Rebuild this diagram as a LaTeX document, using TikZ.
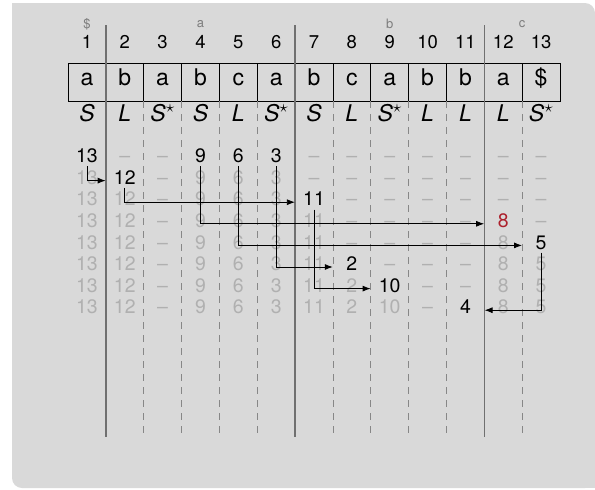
\documentclass[tikz,border=0pt]{standalone}
\usepackage{fontspec}
\setmainfont{TeX Gyre Heros}
\usetikzlibrary{arrows.meta}
\definecolor{bgc}{RGB}{217,217,217}
\definecolor{sepc}{RGB}{112,112,112}
\definecolor{dashc}{RGB}{135,135,135}
\definecolor{fadec}{RGB}{176,176,176}
\definecolor{lblc}{RGB}{125,125,125}
\definecolor{redc}{RGB}{172,32,44}
\newcommand\SAent[4]{\node[rowent,#3] (r#1c#2) at ({68+(#2-0.5)*37.85},{159+(#1-1)*21.6}) {#4};}
\begin{document}
\begin{tikzpicture}[x=1pt,y=-1pt,
  idxlbl/.style={font=\fontsize{18.5}{18.5}\selectfont, text height=0.72em, text depth=0pt, inner sep=0pt},
  bktlbl/.style={font=\fontsize{13}{13}\selectfont, text=lblc, inner sep=0pt},
  cellbox/.style={draw=black, line width=0.8pt, minimum width=37.85pt, minimum height=38pt, inner sep=0pt,
     font=\fontsize{23}{23}\selectfont, text height=0.72em, text depth=0pt},
  typelbl/.style={font=\fontsize{23}{23}\selectfont\itshape, text height=0.72em, text depth=0pt, inner sep=0pt},
  rowent/.style={font=\fontsize{19.5}{19.5}\selectfont, minimum width=37.85pt, inner xsep=0pt, inner ysep=3.5pt,
     text height=0.72em, text depth=0pt},
  fadedent/.style={text=fadec},
  newent/.style={text=black},
  redent/.style={text=redc},
  bucketsep/.style={draw=sepc, line width=1.5pt},
  cellsep/.style={draw=dashc, line width=0.7pt, dash pattern=on 7pt off 6pt},
  arr/.style={draw=black, line width=0.8pt, -{Latex[length=8pt,width=6pt]}}]
\useasboundingbox (0,0) rectangle (595,490);
\fill[bgc, rounded corners=10pt] (12,3) rectangle (595,488);
\fill[bgc] (12,3) rectangle (40,30);
\fill[bgc] (560,460) rectangle (595,488);

% index numbers, string cells and types
\foreach \i/\ch/\ty in {1/a/S, 2/b/L, 3/a/{S$^\star$}, 4/b/S, 5/c/L, 6/a/{S$^\star$}, 7/b/S, 8/c/L, 9/a/{S$^\star$}, 10/b/L, 11/b/L, 12/a/L, 13/\$/{S$^\star$}} {
  \node[idxlbl] (idx\i) at ({68+(\i-0.5)*37.85},45) {\i};
  \node[cellbox] (cell\i) at ({68+(\i-0.5)*37.85},82) {\ch};
  \node[typelbl] (t\i) at ({68+(\i-0.5)*37.85},118) {\ty};
}

% bucket labels
\node[bktlbl] (bkd) at ({68+0.5*37.85},24) {\$};
\node[bktlbl] (bka) at ({68+3.5*37.85},24) {a};
\node[bktlbl] (bkb) at ({68+8.5*37.85},24) {b};
\node[bktlbl] (bkc) at ({68+12*37.85},24) {c};

% separators
\foreach \k in {2,3,4,5,7,8,9,10,12}
  \draw[cellsep] ({68+\k*37.85},101) -- ({68+\k*37.85},437);
\foreach \k in {1,6,11}
  \draw[bucketsep] ({68+\k*37.85},25) -- ({68+\k*37.85},437);

% rows
\foreach \c/\s/\v in {1/newent/13,2/fadedent/–,3/fadedent/–,4/newent/9,5/newent/6,6/newent/3,7/fadedent/–,8/fadedent/–,9/fadedent/–,10/fadedent/–,11/fadedent/–,12/fadedent/–,13/fadedent/–}
  {\SAent{1}{\c}{\s}{\v}}
\foreach \c/\s/\v in {1/fadedent/13,2/newent/12,3/fadedent/–,4/fadedent/9,5/fadedent/6,6/fadedent/3,7/fadedent/–,8/fadedent/–,9/fadedent/–,10/fadedent/–,11/fadedent/–,12/fadedent/–,13/fadedent/–}
  {\SAent{2}{\c}{\s}{\v}}
\foreach \c/\s/\v in {1/fadedent/13,2/fadedent/12,3/fadedent/–,4/fadedent/9,5/fadedent/6,6/fadedent/3,7/newent/11,8/fadedent/–,9/fadedent/–,10/fadedent/–,11/fadedent/–,12/fadedent/–,13/fadedent/–}
  {\SAent{3}{\c}{\s}{\v}}
\foreach \c/\s/\v in {1/fadedent/13,2/fadedent/12,3/fadedent/–,4/fadedent/9,5/fadedent/6,6/fadedent/3,7/fadedent/11,8/fadedent/–,9/fadedent/–,10/fadedent/–,11/fadedent/–,12/redent/8,13/fadedent/–}
  {\SAent{4}{\c}{\s}{\v}}
\foreach \c/\s/\v in {1/fadedent/13,2/fadedent/12,3/fadedent/–,4/fadedent/9,5/fadedent/6,6/fadedent/3,7/fadedent/11,8/fadedent/–,9/fadedent/–,10/fadedent/–,11/fadedent/–,12/fadedent/8,13/newent/5}
  {\SAent{5}{\c}{\s}{\v}}
\foreach \c/\s/\v in {1/fadedent/13,2/fadedent/12,3/fadedent/–,4/fadedent/9,5/fadedent/6,6/fadedent/3,7/fadedent/11,8/newent/2,9/fadedent/–,10/fadedent/–,11/fadedent/–,12/fadedent/8,13/fadedent/5}
  {\SAent{6}{\c}{\s}{\v}}
\foreach \c/\s/\v in {1/fadedent/13,2/fadedent/12,3/fadedent/–,4/fadedent/9,5/fadedent/6,6/fadedent/3,7/fadedent/11,8/fadedent/2,9/newent/10,10/fadedent/–,11/fadedent/–,12/fadedent/8,13/fadedent/5}
  {\SAent{7}{\c}{\s}{\v}}
\foreach \c/\s/\v in {1/fadedent/13,2/fadedent/12,3/fadedent/–,4/fadedent/9,5/fadedent/6,6/fadedent/3,7/fadedent/11,8/fadedent/2,9/fadedent/10,10/fadedent/–,11/newent/4,12/fadedent/8,13/fadedent/5}
  {\SAent{8}{\c}{\s}{\v}}

% arrows
\draw[arr] (r1c1.south) |- (r2c2.west);
\draw[arr] (r2c2.south) |- (r3c7.west);
\draw[arr] (r1c4.south) |- (r4c12.west);
\draw[arr] (r1c5.south) |- (r5c13.west);
\draw[arr] (r1c6.south) |- (r6c8.west);
\draw[arr] (r3c7.south) |- (r7c9.west);
\draw[arr] (r5c13.south) |- (r8c11.east);
\end{tikzpicture}
\end{document}
